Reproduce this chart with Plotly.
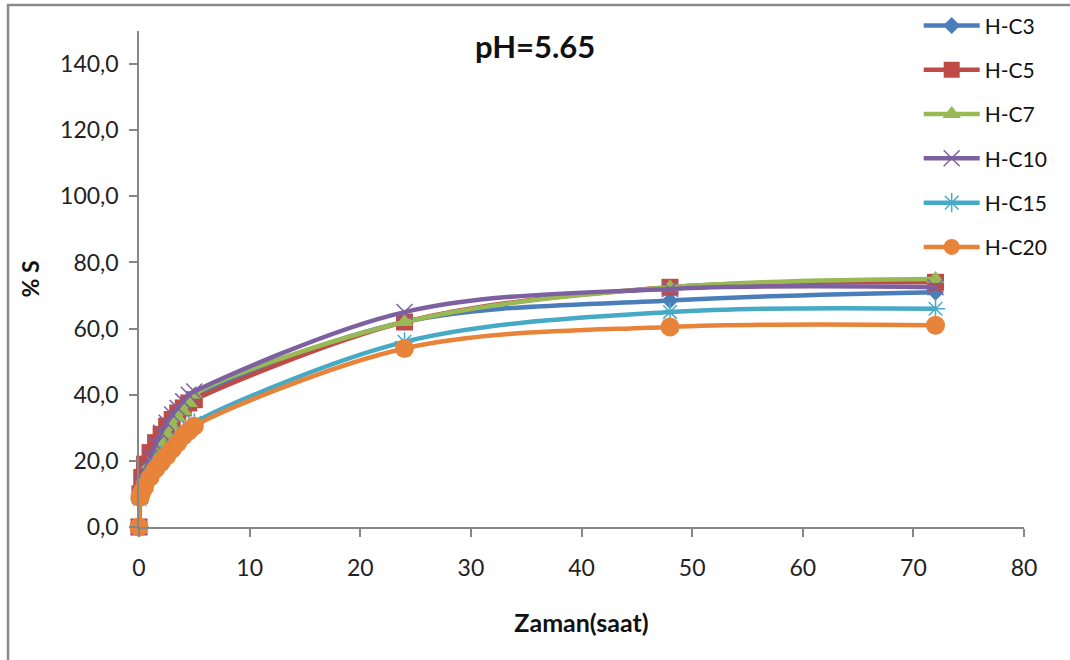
import plotly.graph_objects as go

# Sampling times (hours)
saat = [0, 0.083, 0.25, 0.5, 1, 1.5, 2, 2.5, 3, 3.5, 4, 4.5, 5, 24, 48, 72]

# % S for each sample
h_c3 = [0, 9, 12.5, 15.5, 20, 23.5, 26.5, 29.5, 32, 34.5, 36.5, 38, 39.5, 62, 68.5, 71]
h_c5 = [0, 10, 15, 19, 22.5, 25.5, 28, 30.5, 32.5, 34.5, 36, 37.5, 38.5, 62, 72.5, 74]
h_c7 = [0, 9, 12, 15, 19, 22, 25, 28, 30.5, 33, 35, 37.5, 40, 62, 72.5, 75]
h_c10 = [0, 9.5, 13, 16.5, 21, 25, 28.5, 31.5, 34, 36, 38, 40, 41, 65, 72, 72.5]
h_c15 = [0, 8.5, 10.5, 12.5, 16, 18.5, 20.5, 22.5, 24.5, 26.5, 28.5, 30, 31.5, 56, 65, 66]
h_c20 = [0, 9, 10.5, 12, 15, 17.5, 19.5, 21.5, 23.5, 25.5, 27.5, 29, 30.5, 54, 60.5, 61]

series = [
    ("H-C3", h_c3, "#4A7EBB", dict(symbol="diamond", size=13)),
    ("H-C5", h_c5, "#BE4B48", dict(symbol="square", size=17)),
    ("H-C7", h_c7, "#98B954", dict(symbol="triangle-up", size=16)),
    ("H-C10", h_c10, "#7D60A0", dict(symbol="x-thin-open", size=16,
                                     line=dict(width=1.5, color="#9583BC"))),
    ("H-C15", h_c15, "#46AAC5", dict(symbol="asterisk-open", size=16,
                                     line=dict(width=1.5, color="#74C3DA"))),
    ("H-C20", h_c20, "#E8833A", dict(symbol="circle", size=19)),
]

FONT = "Lato"

fig = go.Figure()
for name, vals, color, marker in series:
    m = dict(color=color)
    m.update(marker)
    fig.add_trace(go.Scatter(
        x=saat, y=vals, name=name, mode="lines+markers",
        line=dict(color=color, width=4.5, shape="spline", smoothing=1.0),
        marker=m, legendgroup=name, cliponaxis=False,
    ))

axis_common = dict(
    showgrid=False, zeroline=False, showline=True, automargin=False,
    linecolor="#868686", linewidth=1.5,
    ticks="outside", tickcolor="#868686", ticklen=8, tickwidth=1.5,
    tickfont=dict(family=FONT, size=23, color="#222222"),
)

fig.update_layout(
    width=1070, height=660,
    margin=dict(l=139, r=46, t=31, b=133, autoexpand=False),
    paper_bgcolor="white", plot_bgcolor="white",
    separators=",.",
    showlegend=True,
    legend=dict(
        x=0.881, xanchor="left", xref="paper",
        y=0.992, yanchor="top", yref="container",
        font=dict(family=FONT, size=21, color="#111111"),
        tracegroupgap=14, itemwidth=56,
        bgcolor="rgba(0,0,0,0)",
    ),
    annotations=[
        dict(text="<b>pH=5.65</b>", x=0.447, y=0.969, xref="paper", yref="paper",
             xanchor="center", yanchor="middle",
             showarrow=False, font=dict(family=FONT, size=31, color="#111111")),
    ],
    shapes=[
        dict(type="rect", xref="paper", yref="paper",
             x0=-0.148, x1=1.06, y0=-0.3, y1=1.0524,
             line=dict(color="#8A8A8A", width=2.5), fillcolor="rgba(0,0,0,0)",
             layer="below"),
    ],
)

fig.update_xaxes(
    range=[0, 80], tickvals=[0, 10, 20, 30, 40, 50, 60, 70, 80],
    ticklabelstandoff=12,
    title=dict(text="<b>Zaman(saat)</b>", font=dict(family=FONT, size=25, color="#111111"),
               standoff=34),
    **axis_common,
)
fig.update_yaxes(
    range=[0, 150], tickvals=[0, 20, 40, 60, 80, 100, 120, 140],
    tickformat=".1f", ticklabelstandoff=6,
    title=dict(text="<b>% S</b>", font=dict(family=FONT, size=23, color="#111111"),
               standoff=14),
    **axis_common,
)

fig.write_html("out.html")
